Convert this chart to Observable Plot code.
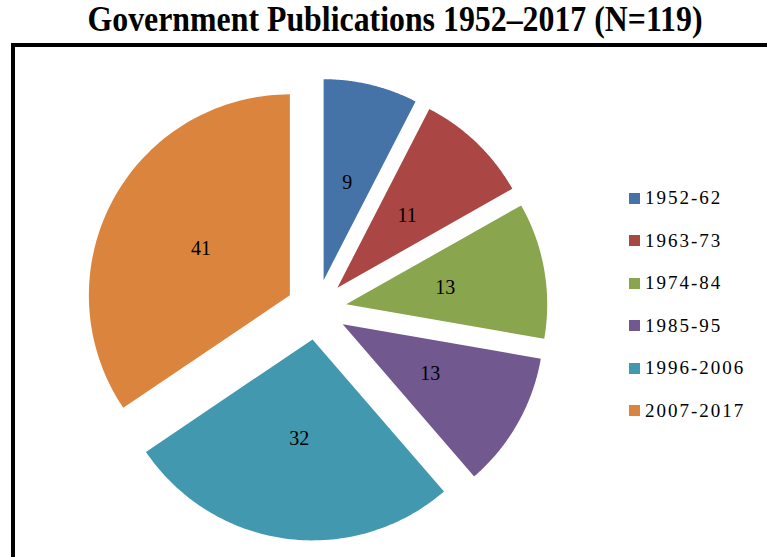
<!DOCTYPE html>
<html><head><meta charset="utf-8">
<script src="https://cdn.jsdelivr.net/npm/d3@7"></script>
<script src="https://cdn.jsdelivr.net/npm/@observablehq/plot@0.6"></script>
<style>
html,body{margin:0;padding:0;background:#fff;overflow:hidden;width:767px;height:557px}
#wrap, #wrap *{font-family:'Liberation Serif' !important}
#wrap{position:relative;width:767px;height:557px;overflow:hidden;color:#000}
#title{position:absolute;left:395px;top:2px;white-space:nowrap;font-weight:bold;font-size:35px;line-height:36px;transform-origin:center;}
#box{position:absolute;left:11px;top:43px;width:900px;height:700px;border:4px solid #000;box-sizing:border-box}
#chart{position:absolute;left:0;top:43px}
#legend{position:absolute;left:629px;top:188px}
.row{display:flex;align-items:center;height:20px;margin-bottom:22.6px}
.sw{width:11px;height:11px;margin-right:5px}
.lb{font-size:19px;letter-spacing:2px;line-height:20px}
</style></head>
<body><div id="wrap">
<div id="title">Government Publications 1952–2017 (N=119)</div>
<div id="box"></div>
<div id="chart"></div>
<div id="legend"></div>
</div>
<script>
const periods = ["1952-62","1963-73","1974-84","1985-95","1996-2006","2007-2017"];
const counts = [9, 11, 13, 13, 32, 41];
const colors = ["#4572A7","#AA4643","#89A54E","#71588F","#4198AF","#DB843D"];

const explode = 0.15;   // slice explosion as fraction of radius
const labelR = 0.5;     // label distance from slice tip, fraction of radius
const SERIF = "'Liberation Serif'";

const data = periods.map((p, i) => ({period: p, count: counts[i]}));
const arcs = d3.pie().sort(null).value(d => d.count)(data);

const pts = [];
const labels = [];
for (const a of arcs) {
  const mid = (a.startAngle + a.endAngle) / 2;
  const ox = explode * Math.sin(mid), oy = explode * Math.cos(mid);
  pts.push({period: a.data.period, x: ox, y: oy});
  const n = 80;
  for (let k = 0; k <= n; k++) {
    const t = a.startAngle + (a.endAngle - a.startAngle) * k / n;
    pts.push({period: a.data.period, x: ox + Math.sin(t), y: oy + Math.cos(t)});
  }
  labels.push({text: String(a.data.count), x: ox + labelR * Math.sin(mid), y: oy + labelR * Math.cos(mid)});
}

const R = 201, W = 767, H = 514, CX = 316, CY = 266;
const chart = Plot.plot({
  width: W, height: H, margin: 0,
  style: {background: "transparent", fontFamily: SERIF},
  x: {domain: [-CX / R, (W - CX) / R], axis: null},
  y: {domain: [-(H - CY) / R, CY / R], axis: null},
  color: {domain: periods, range: colors},
  marks: [
    Plot.line(pts, {x: "x", y: "y", z: "period", fill: "period", stroke: "none", curve: "linear-closed"}),
    Plot.text(labels, {x: "x", y: "y", text: "text", fontSize: 20, fill: "#000", fontFamily: SERIF})
  ]
});
document.getElementById("chart").appendChild(chart);

const leg = document.getElementById("legend");
periods.forEach((p, i) => {
  const row = document.createElement("div"); row.className = "row";
  const sw = document.createElement("div"); sw.className = "sw"; sw.style.background = colors[i];
  const lb = document.createElement("div"); lb.className = "lb"; lb.textContent = p;
  row.appendChild(sw); row.appendChild(lb); leg.appendChild(row);
});

const t = document.getElementById("title");
const w = t.getBoundingClientRect().width;
t.style.transform = `translateX(-50%) scaleX(${615 / w})`;
</script>
</body></html>
